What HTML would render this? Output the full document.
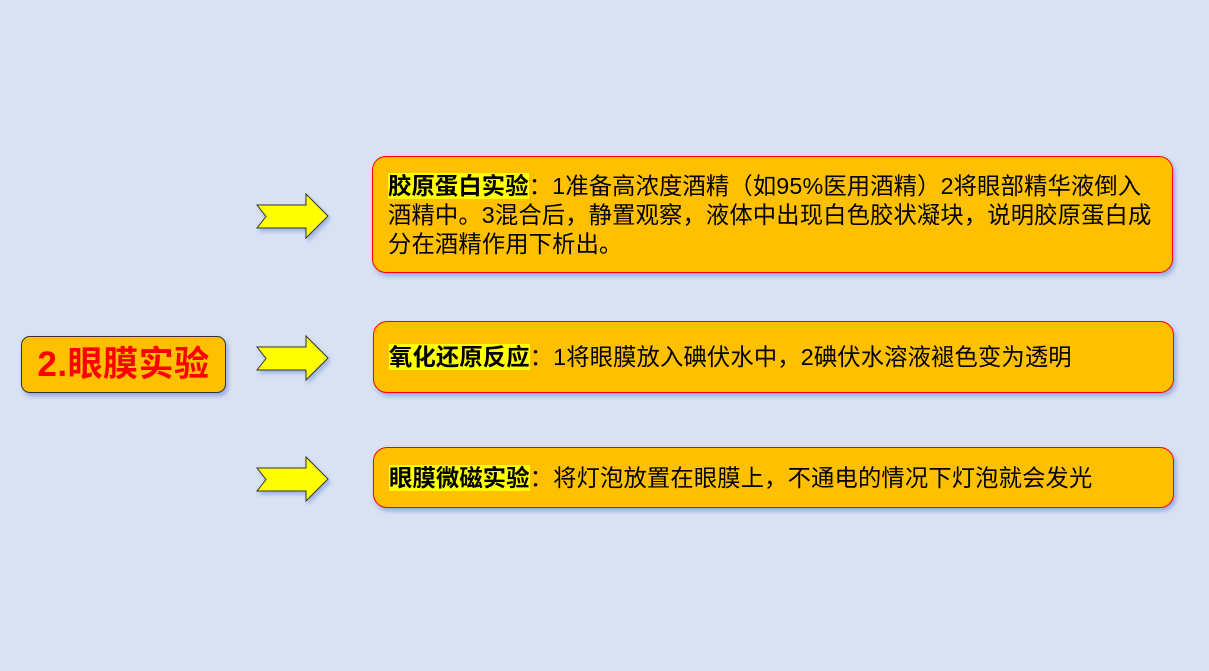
<!DOCTYPE html>
<html><head><meta charset="utf-8"><style>
body{margin:0;width:1209px;height:671px;background:#d9e2f3;position:relative;overflow:hidden;font-family:"Liberation Sans","Noto Sans CJK SC",sans-serif}
.box{position:absolute;background:#ffc000;border:1px solid #ff0000;border-radius:14px;box-shadow:2px 3px 5px rgba(80,110,200,.5);box-sizing:border-box;color:#000;font-size:23.3px;line-height:29px;padding-left:15px;white-space:nowrap;letter-spacing:0.15px}
.h{background:#ffff00;font-weight:bold}
svg{position:absolute}
</style></head><body>
<div class="box" style="left:21px;top:336px;width:205px;height:57px;border:1px solid #333;border-radius:9px;color:#ff0000;font-weight:bold;font-size:35px;line-height:55px;padding:0;text-align:center;letter-spacing:0.5px">2.眼膜实验</div>
<svg width="1209" height="671" style="left:0;top:0">
<defs><filter id="s"><feDropShadow dx="2" dy="3" stdDeviation="2" flood-color="#6080d0" flood-opacity=".5"/></filter></defs>
<g fill="#ffff00" stroke="#333" stroke-width="1" filter="url(#s)">
<polygon points="257,205 306,205 306,194 328,216 306,238 306,228 257,228 266,216.5"/>
<polygon points="257,347 306,347 306,336 328,358 306,380 306,370 257,370 266,358.5"/>
<polygon points="257,468 306,468 306,457 328,479 306,501 306,491 257,491 266,479.5"/>
</g></svg>
<div class="box" style="left:372px;top:156px;width:801px;height:117px;padding-top:15px">
<span class="h">胶原蛋白实验</span>：1准备高浓度酒精（如95%医用酒精）2将眼部精华液倒入<br>酒精中。3混合后，静置观察，液体中出现白色胶状凝块，说明胶原蛋白成<br>分在酒精作用下析出。</div>
<div class="box" style="left:373px;top:321px;width:801px;height:72px;padding-top:21px"><span class="h">氧化还原反应</span>：1将眼膜放入碘伏水中，2碘伏水溶液褪色变为透明</div>
<div class="box" style="left:373px;top:447px;width:801px;height:61px;padding-top:16px"><span class="h">眼膜微磁实验</span>：将灯泡放置在眼膜上，不通电的情况下灯泡就会发光</div>
</body></html>
